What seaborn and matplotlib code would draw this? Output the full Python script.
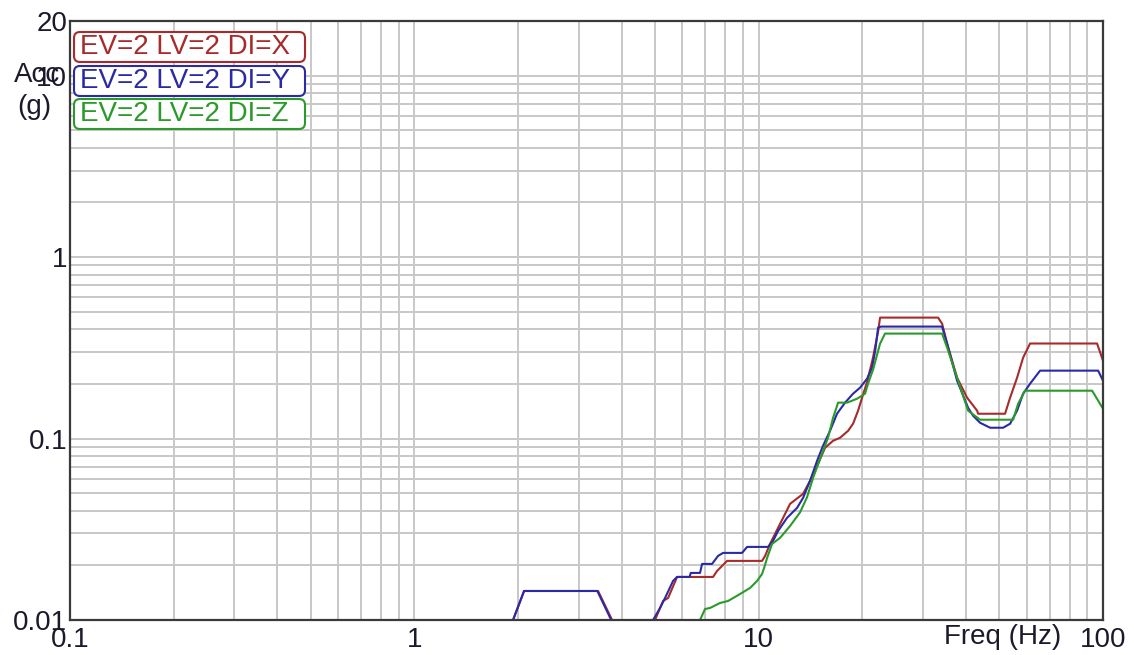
import numpy as np
import pandas as pd
import matplotlib
matplotlib.use("Agg")
import matplotlib.pyplot as plt
from matplotlib.ticker import LogLocator, NullFormatter, FixedLocator, FixedFormatter
from matplotlib.patches import FancyBboxPatch
import seaborn as sns

# ---------------- data ----------------
freq_x = [1.935, 2.083, 3.417, 3.752, 4.2, 4.8, 5.0, 5.277, 5.458, 5.795, 7.371, 7.572, 7.726, 8.095,
          10.23, 10.44, 10.79, 11.01, 11.54, 12.34, 13.46, 14.10, 14.87, 15.59, 16.45, 17.24, 18.19,
          18.80, 19.44, 19.97, 20.65, 21.49, 22.23, 22.52, 33.19, 34.09, 35.26, 37.69, 40.30, 43.09,
          43.38, 51.95, 53.73, 56.30, 58.61, 61.41, 96.1, 100]
acc_x = [0.01, 0.01445, 0.01445, 0.01, 0.008, 0.008, 0.01, 0.01273, 0.01323, 0.01727, 0.01727, 0.01864,
         0.01936, 0.02117, 0.02117, 0.02255, 0.02627, 0.02836, 0.03387, 0.04368, 0.0496, 0.05849, 0.0726,
         0.08897, 0.09725, 0.101, 0.1104, 0.1207, 0.1424, 0.168, 0.205, 0.28, 0.39, 0.464, 0.464, 0.43,
         0.334, 0.2165, 0.168, 0.1424, 0.137, 0.137, 0.168, 0.2165, 0.279, 0.334, 0.334, 0.2688]

freq_y = [1.935, 2.083, 3.40, 3.73, 4.2, 4.8, 4.935, 5.171, 5.348, 5.641, 5.795, 6.30, 6.35, 6.757, 6.848,
          7.322, 7.622, 7.881, 8.951, 9.254, 10.65, 11.01, 11.39, 12.09, 12.93, 13.46, 14.10, 14.78, 15.38,
          16.12, 16.89, 17.82, 18.80, 19.70, 20.65, 21.35, 21.8, 22.23, 22.67, 34.09, 35.26, 37.69, 40.57,
          41.94, 43.95, 47.00, 51.27, 53.73, 56.30, 58.61, 61.41, 65.65, 96.8, 100]
acc_y = [0.01, 0.01445, 0.01445, 0.01, 0.008, 0.008, 0.01, 0.01165, 0.01323, 0.01641, 0.01727, 0.01727,
         0.01817, 0.01817, 0.02037, 0.02037, 0.02255, 0.02343, 0.02343, 0.02528, 0.02528, 0.02729, 0.03098,
         0.03655, 0.04151, 0.04713, 0.05849, 0.07542, 0.09127, 0.1104, 0.1371, 0.1577, 0.1767, 0.1907,
         0.2138, 0.2459, 0.3051, 0.4088, 0.414, 0.414, 0.3336, 0.2084, 0.1479, 0.1336, 0.1222, 0.1147,
         0.1147, 0.1207, 0.1424, 0.1767, 0.2006, 0.2367, 0.2367, 0.2084]

freq_z = [6.757, 6.987, 7.225, 7.726, 8.150, 8.831, 9.441, 9.893, 10.23, 10.37, 10.58, 10.94, 11.54, 12.34,
          13.19, 13.82, 14.39, 15.28, 15.90, 16.45, 17.01, 18.07, 19.31, 20.37, 20.78, 21.49, 22.52, 23.28,
          34.09, 35.26, 37.69, 40.57, 43.95, 54.83, 56.69, 59.39, 93.0, 100]
acc_z = [0.01, 0.0115, 0.01165, 0.01241, 0.01273, 0.01391, 0.01502, 0.01641, 0.01794, 0.01936, 0.02198,
         0.02627, 0.02836, 0.033, 0.0392, 0.0475, 0.06077, 0.08245, 0.101, 0.1302, 0.1577, 0.1577, 0.1658,
         0.1767, 0.2006, 0.24, 0.3336, 0.3788, 0.3788, 0.317, 0.2165, 0.1424, 0.127, 0.127, 0.1556, 0.1835,
         0.1835, 0.146]

series_names = ["EV=2 LV=2 DI=X", "EV=2 LV=2 DI=Y", "EV=2 LV=2 DI=Z"]
series_colors = ["#a82a2a", "#2a2aa6", "#2a9a2a"]

x_ticks = [0.1, 1, 10, 100]
x_tick_labels = ["0.1", "1", "10", "100"]
y_ticks = [0.01, 0.1, 1, 10, 20]
y_tick_labels = ["0.01", "0.1", "1", "10", "20"]

# ---------------- build table ----------------
frames = []
for name, f, a in zip(series_names, [freq_x, freq_y, freq_z], [acc_x, acc_y, acc_z]):
    frames.append(pd.DataFrame({"freq": f, "acc": a, "series": name}))
df = pd.concat(frames, ignore_index=True)

# ---------------- figure ----------------
sns.set_style("white")
plt.rcParams["font.family"] = ["Liberation Sans", "DejaVu Sans"]

FS = 20
TXT = "#1a1a2a"
W, H = 1134, 655
fig = plt.figure(figsize=(W / 100, H / 100), dpi=100)
L, R, T, B = 70, 1103, 21, 620
ax = fig.add_axes([L / W, 1 - B / H, (R - L) / W, (B - T) / H])

sns.lineplot(data=df, x="freq", y="acc", hue="series", palette=series_colors,
             estimator=None, sort=False, units="series", legend=False, lw=1.5, ax=ax)

ax.set_xscale("log")
ax.set_yscale("log")
ax.set_xlim(0.1, 100)
ax.set_ylim(0.01, 20)

ax.xaxis.set_major_locator(FixedLocator(x_ticks))
ax.xaxis.set_major_formatter(FixedFormatter(x_tick_labels))
ax.yaxis.set_major_locator(FixedLocator(y_ticks))
ax.yaxis.set_major_formatter(FixedFormatter(y_tick_labels))
ax.xaxis.set_minor_locator(LogLocator(base=10, subs=np.arange(2, 10), numticks=100))
ax.yaxis.set_minor_locator(LogLocator(base=10, subs=np.arange(2, 10), numticks=100))
ax.xaxis.set_minor_formatter(NullFormatter())
ax.yaxis.set_minor_formatter(NullFormatter())
ax.tick_params(which="both", length=0)
ax.tick_params(axis="both", labelsize=FS, colors=TXT)
ax.tick_params(axis="x", pad=5)
ax.tick_params(axis="y", pad=2)

ax.grid(True, which="both", color="#c8c8c8", lw=1.4)
ax.set_axisbelow(True)
for s in ax.spines.values():
    s.set_color("#3a3a3a")
    s.set_linewidth(1.6)
ax.set_xlabel("")
ax.set_ylabel("")

# axis titles
fig.text(1003 / W, 1 - 637 / H, "Freq (Hz)", ha="center", va="center", fontsize=FS, color=TXT)
fig.text(14 / W, 1 - 75 / H, "Acc", ha="left", va="center", fontsize=FS, color=TXT)
fig.text(17 / W, 1 - 107 / H, "(g)", ha="left", va="center", fontsize=FS, color=TXT)

# legend boxes
aw, ah = R - L, B - T
box_tops = [32, 66, 99]
box_h = 30
for name, col, top in zip(series_names, series_colors, box_tops):
    x0 = (74 - L) / aw
    y0 = (B - (top + box_h)) / ah
    bw = 231 / aw
    bh = box_h / ah
    p = FancyBboxPatch((x0, y0), bw, bh, boxstyle="round,pad=0,rounding_size=%f" % (6 / aw),
                       mutation_aspect=aw / ah, transform=ax.transAxes, facecolor="white",
                       edgecolor=col, lw=1.5, zorder=5, clip_on=False)
    ax.add_patch(p)
    ax.text((80 - L) / aw, y0 + bh / 2, name, transform=ax.transAxes, ha="left", va="center",
            fontsize=FS, color=col, zorder=6)

fig.savefig("out.png", dpi=100)
